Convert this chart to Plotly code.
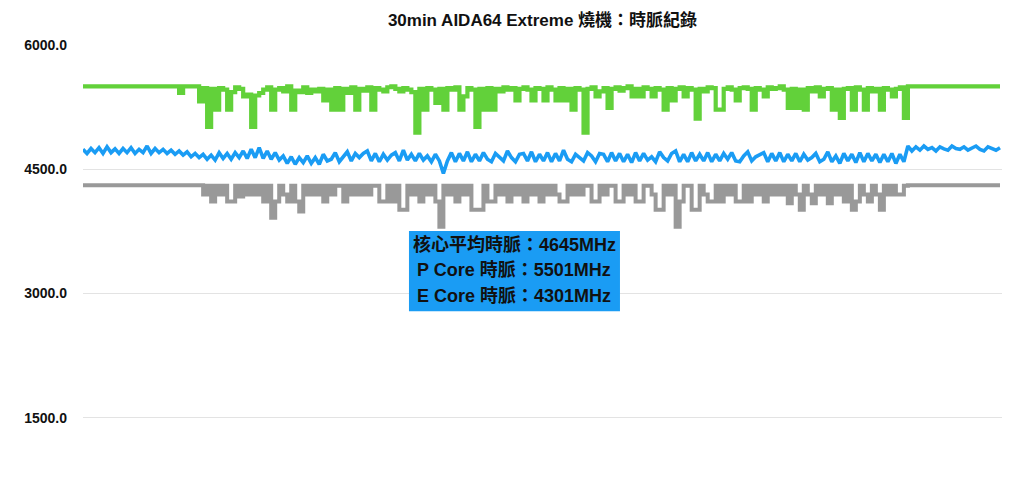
import plotly.graph_objects as go

# Sample index (≈ every 8 s across the 30-minute run)
p_core = [
    5500, 5500, 5500, 5500, 5500, 5500, 5500, 5500, 5500, 5500,
    5500, 5500, 5500, 5500, 5500, 5500, 5500, 5500, 5500, 5500,
    5500, 5500, 5500, 5500, 5420, 5500, 5500, 5500, 5500, 5320,
    5480, 5010, 5470, 5220, 5480, 5460, 5220, 5430, 5490, 5470,
    5380, 5400, 5010, 5390, 5420, 5460, 5490, 5220, 5460, 5480,
    5440, 5500, 5220, 5450, 5430, 5490, 5420, 5460, 5440, 5470,
    5330, 5460, 5220, 5480, 5220, 5470, 5420, 5490, 5220, 5470,
    5450, 5490, 5220, 5480, 5460, 5440, 5490, 5500, 5470, 5440,
    5480, 5460, 5430, 4940, 5470, 5220, 5480, 5460, 5300, 5470,
    5220, 5480, 5460, 5490, 5220, 5380, 5480, 5460, 5010, 5470,
    5220, 5480, 5220, 5470, 5440, 5490, 5460, 5480, 5330, 5470,
    5490, 5460, 5330, 5480, 5470, 5330, 5490, 5460, 5330, 5480,
    5330, 5470, 5220, 5480, 5460, 4940, 5470, 5490, 5380, 5440,
    5480, 5240, 5470, 5490, 5450, 5480, 5500, 5380, 5470, 5380,
    5490, 5470, 5380, 5480, 5460, 5220, 5480, 5330, 5470, 5490,
    5380, 5480, 5460, 5110, 5470, 5440, 5490, 5480, 5220, 5220,
    5470, 5490, 5460, 5330, 5480, 5490, 5470, 5220, 5480, 5460,
    5380, 5490, 5470, 5480, 5500, 5460, 5240, 5470, 5240, 5460,
    5220, 5480, 5440, 5490, 5380, 5470, 5480, 5220, 5460, 5120,
    5470, 5480, 5220, 5490, 5460, 5220, 5480, 5440, 5470, 5220,
    5480, 5460, 5380, 5470, 5490, 5120, 5500, 5500, 5500, 5500,
    5500, 5500, 5500, 5500, 5500, 5500, 5500, 5500, 5500, 5500,
    5500, 5500, 5500, 5500, 5500, 5500, 5500, 5500, 5500, 5500,
]

avg_clock = [
    4740, 4690, 4750, 4700, 4760, 4690, 4770, 4700, 4745, 4690,
    4750, 4700, 4760, 4690, 4740, 4700, 4780, 4690, 4750, 4700,
    4740, 4690, 4730, 4680, 4720, 4670, 4710, 4650, 4690, 4640,
    4680, 4620, 4670, 4610, 4700, 4630, 4690, 4620, 4700, 4640,
    4720, 4630, 4740, 4640, 4760, 4630, 4720, 4620, 4700, 4610,
    4660, 4570, 4650, 4560, 4640, 4580, 4660, 4570, 4640, 4560,
    4680, 4600, 4620, 4700, 4590, 4650, 4710, 4600, 4690, 4640,
    4690, 4720, 4600, 4690, 4590, 4680, 4610, 4670, 4700, 4600,
    4730, 4610, 4680, 4600, 4690, 4610, 4660, 4590, 4680, 4600,
    4450, 4600, 4700, 4590, 4690, 4600, 4710, 4590, 4680, 4600,
    4700, 4620, 4590, 4690, 4650, 4600, 4720, 4640, 4590, 4680,
    4690, 4600, 4710, 4590, 4680, 4600, 4700, 4590, 4690, 4600,
    4730, 4620, 4590, 4680, 4640, 4600, 4700, 4660, 4590, 4690,
    4680, 4590, 4700, 4600, 4690, 4590, 4680, 4580, 4700, 4600,
    4690, 4610, 4650, 4590, 4710, 4640, 4600, 4690, 4720, 4590,
    4680, 4590, 4700, 4600, 4680, 4600, 4700, 4590, 4680, 4600,
    4690, 4620, 4700, 4600, 4590, 4660, 4710, 4600, 4650, 4680,
    4700, 4590, 4690, 4600, 4700, 4590, 4680, 4600, 4690, 4590,
    4680, 4610, 4640, 4690, 4590, 4620, 4710, 4590, 4660, 4570,
    4690, 4600, 4680, 4580, 4700, 4590, 4690, 4600, 4680, 4580,
    4680, 4590, 4690, 4570, 4680, 4590, 4780, 4720, 4770, 4730,
    4780, 4740, 4760, 4720, 4770, 4745, 4730, 4780, 4750, 4740,
    4770, 4730, 4760, 4780, 4740, 4720, 4770, 4750, 4730, 4760,
]

e_core = [
    4305, 4305, 4305, 4305, 4305, 4305, 4305, 4305, 4305, 4305,
    4305, 4305, 4305, 4305, 4305, 4305, 4305, 4305, 4305, 4305,
    4305, 4305, 4305, 4305, 4305, 4305, 4305, 4305, 4305, 4305,
    4195, 4300, 4110, 4300, 4195, 4300, 4110, 4110, 4300, 4170,
    4300, 4195, 4300, 4195, 4300, 4110, 4300, 3915, 4110, 4300,
    4195, 4110, 4300, 4110, 3990, 4300, 4195, 4300, 4195, 4300,
    4110, 4300, 4195, 4300, 4300, 4110, 4300, 4195, 4300, 4195,
    4300, 4195, 4300, 4300, 4110, 4110, 4300, 4110, 4300, 4010,
    4010, 4300, 4195, 4300, 4110, 4300, 4195, 4300, 4110, 3805,
    4300, 4195, 4300, 4110, 4300, 4195, 4300, 4010, 4010, 4010,
    4300, 4110, 4110, 4300, 4195, 4300, 4110, 4300, 4195, 4300,
    4110, 4300, 4195, 4300, 4110, 4300, 4195, 4300, 4195, 4110,
    4110, 4300, 4195, 4300, 4195, 4300, 4300, 4110, 4110, 4300,
    4195, 4300, 4300, 4110, 4110, 4300, 4195, 4300, 4110, 4110,
    4300, 4300, 4195, 4010, 4010, 4300, 4195, 4300, 3805, 4110,
    4300, 4300, 4010, 4010, 4300, 4195, 4110, 4110, 4300, 4110,
    4300, 4195, 4300, 4110, 4110, 4300, 4110, 4300, 4195, 4300,
    4110, 4300, 4195, 4300, 4195, 4300, 4090, 4300, 4195, 4010,
    4300, 4195, 4090, 4300, 4195, 4300, 4090, 4300, 4195, 4300,
    4110, 4300, 4010, 4110, 4300, 4195, 4110, 4300, 4195, 4010,
    4300, 4195, 4300, 4195, 4195, 4300, 4305, 4305, 4305, 4305,
    4305, 4305, 4305, 4305, 4305, 4305, 4305, 4305, 4305, 4305,
    4305, 4305, 4305, 4305, 4305, 4305, 4305, 4305, 4305, 4305,
]

y_ticks = [1500, 3000, 4500, 6000]
y_tick_labels = ["1500.0", "3000.0", "4500.0", "6000.0"]

title_text = "30min AIDA64 Extreme 燒機：時脈紀錄"
summary_lines = ["核心平均時脈：4645MHz", "P Core 時脈：5501MHz", "E Core 時脈：4301MHz"]

x = list(range(len(p_core)))

GREEN = "#62d13a"
BLUE = "#1a9cf4"
GRAY = "#999999"
FONT = "Liberation Sans, Arial, Noto Sans CJK TC, sans-serif"

fig = go.Figure()
fig.add_trace(go.Scatter(x=x, y=e_core, mode="lines", line=dict(color=GRAY, width=4, shape="hv"),
                         name="E Core", hoverinfo="skip"))
fig.add_trace(go.Scatter(x=x, y=avg_clock, mode="lines", line=dict(color=BLUE, width=3.6),
                         name="Avg", hoverinfo="skip"))
fig.add_trace(go.Scatter(x=x, y=p_core, mode="lines", line=dict(color=GREEN, width=4.2, shape="hv"),
                         name="P Core", hoverinfo="skip"))

# summary box
fig.add_shape(type="rect", xref="paper", yref="paper", x0=0.3547, x1=0.5843, y0=0.3571, y1=0.5506,
              fillcolor=BLUE, line=dict(width=0), layer="above")
for yy, line in zip([0.519, 0.456, 0.393], summary_lines):
    fig.add_annotation(xref="paper", yref="paper", x=0.4695, y=yy, text="<b>" + line + "</b>",
                       showarrow=False, xanchor="center", yanchor="middle",
                       font=dict(family=FONT, size=18, color="#111111"))

fig.update_layout(
    width=1010, height=488,
    margin=dict(l=75, r=16, t=37, b=37),
    paper_bgcolor="white", plot_bgcolor="white",
    showlegend=False,
    font=dict(family=FONT, color="#111111"),
    title=dict(text="<b>" + title_text + "</b>", x=0.5, xref="paper", xanchor="center",
               y=1 - 12 / 488, yref="container", yanchor="middle",
               font=dict(family=FONT, size=17, color="#111111")),
    xaxis=dict(range=[0, len(p_core) - 0.5], visible=False, showgrid=False, zeroline=False),
    yaxis=dict(range=[1000, 6000], tickvals=y_ticks, ticktext=["<b>" + t + "</b>" for t in y_tick_labels],
               showgrid=True, gridcolor="#e3e3e3", gridwidth=1, zeroline=False, showline=False,
               ticks="", ticklabelstandoff=15, tickfont=dict(family=FONT, size=14, color="#111111")),
)

fig.write_html("out.html")
